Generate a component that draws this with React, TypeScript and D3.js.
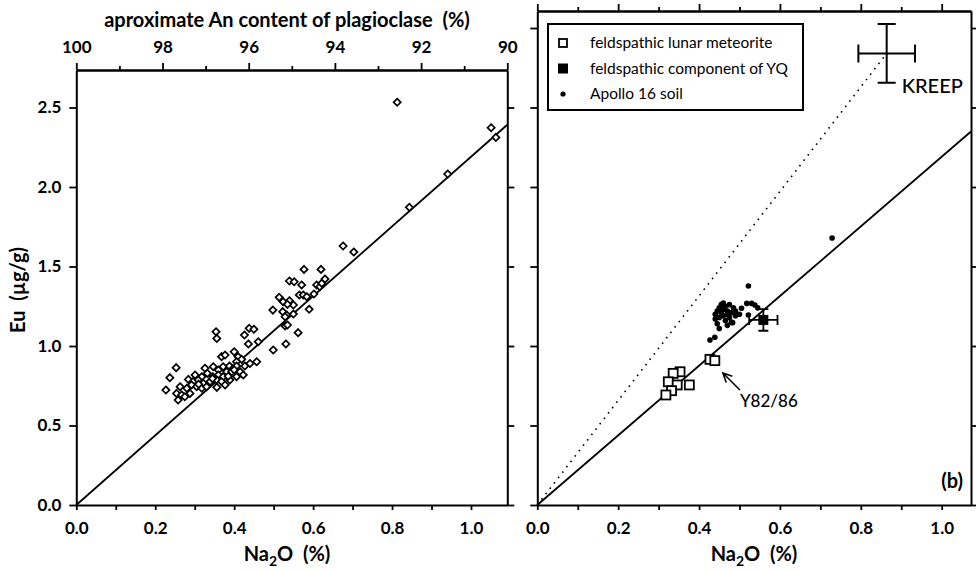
import React, { useEffect, useRef } from "react";
import * as d3 from "d3";

// left panel: lunar meteorites / samples (Na2O %, Eu ug/g)
const samplesNa2O = [
  0.676, 0.703, 0.577, 0.62, 0.63, 0.54, 0.552, 0.571, 0.609, 0.617, 0.622, 0.602, 0.565, 0.575, 0.584,
  0.514, 0.524, 0.54, 0.55, 0.535, 0.498, 0.59, 0.523, 0.533, 0.55, 0.529, 0.529, 0.535, 0.562, 0.354,
  0.356, 0.426, 0.438, 0.45, 0.436, 0.461, 0.499, 0.531, 0.4, 0.368, 0.377, 0.41, 0.419, 0.406, 0.457,
  0.427, 0.253, 0.237, 0.227, 0.326, 0.347, 0.36, 0.372, 0.388, 0.398, 0.406, 0.381, 0.394, 0.415,
  0.301, 0.318, 0.332, 0.346, 0.36, 0.372, 0.284, 0.296, 0.309, 0.322, 0.339, 0.356, 0.368, 0.389,
  0.406, 0.423, 0.263, 0.28, 0.292, 0.305, 0.318, 0.33, 0.356, 0.377, 0.254, 0.267, 0.258, 0.275,
  0.288, 0.813, 0.941, 0.844, 1.051, 1.063, 0.345, 0.385, 0.4, 0.31, 0.44,
];
const samplesEu = [
  1.629, 1.591, 1.482, 1.482, 1.421, 1.409, 1.404, 1.384, 1.384, 1.373, 1.394, 1.327, 1.321, 1.321, 1.31,
  1.306, 1.279, 1.285, 1.258, 1.262, 1.226, 1.231, 1.216, 1.195, 1.201, 1.184, 1.126, 1.132, 1.084, 1.09,
  1.048, 1.069, 1.111, 1.105, 1.013, 1.027, 0.975, 1.013, 0.964, 0.933, 0.943, 0.933, 0.916, 0.901, 0.901,
  0.874, 0.864, 0.801, 0.723, 0.86, 0.87, 0.849, 0.87, 0.874, 0.86, 0.874, 0.838, 0.838, 0.838,
  0.818, 0.807, 0.828, 0.807, 0.818, 0.807, 0.79, 0.776, 0.786, 0.765, 0.776, 0.786, 0.776, 0.786,
  0.807, 0.818, 0.744, 0.734, 0.755, 0.744, 0.734, 0.744, 0.74, 0.755, 0.702, 0.692, 0.66, 0.681,
  0.702, 2.533, 2.082, 1.872, 2.373, 2.312, 0.795, 0.81, 0.85, 0.76, 0.89,
];

// right panel
const meteoriteNa2O = [0.427, 0.439, 0.353, 0.336, 0.324, 0.346, 0.376, 0.332, 0.318];
const meteoriteEu = [0.916, 0.908, 0.838, 0.828, 0.775, 0.755, 0.755, 0.719, 0.692];

const yqNa2O = [0.559];
const yqEu = [1.164];
const yqErrNa2O = [0.035];
const yqErrEu = [0.068];

const soilNa2O = [
  0.44, 0.445, 0.45, 0.45, 0.455, 0.46, 0.46, 0.465, 0.465, 0.47, 0.47, 0.475, 0.475, 0.48, 0.48, 0.485,
  0.49, 0.49, 0.44, 0.445, 0.455, 0.46, 0.5, 0.505, 0.518, 0.53, 0.538, 0.522, 0.522, 0.427, 0.439, 0.45,
  0.729, 0.47, 0.483, 0.545,
];
const soilEu = [
  1.2, 1.22, 1.18, 1.24, 1.21, 1.19, 1.23, 1.16, 1.25, 1.2, 1.22, 1.18, 1.26, 1.21, 1.15, 1.24,
  1.19, 1.22, 1.17, 1.14, 1.26, 1.27, 1.2, 1.237, 1.268, 1.268, 1.258, 1.195, 1.377, 1.038, 1.055, 1.11,
  1.679, 1.13, 1.147, 1.24,
];

const kreepNa2O = [0.864];
const kreepEu = [2.84];
const kreepErrNa2O = [0.07];
const kreepErrEu = [0.185];

const trendSlope = 2.19; // Eu / Na2O, solid line through origin

const naTicks = [0, 0.1, 0.2, 0.3, 0.4, 0.5, 0.6, 0.7, 0.8, 0.9, 1.0];
const naLabels = [0, 0.2, 0.4, 0.6, 0.8, 1.0];
const euTicksLeft = [0, 0.5, 1.0, 1.5, 2.0, 2.5];
const euTicksRight = [0, 0.5, 1.0, 1.5, 2.0, 2.5, 3.0];
const anMajor = [100, 98, 96, 94, 92, 90];
const anMinor = [99, 97, 95, 93, 91];

const legendLabels = ["feldspathic lunar meteorite", "feldspathic component of YQ", "Apollo 16 soil"];

const FONT = "Lato, 'Open Sans', sans-serif";

const App = () => {
  const ref = useRef<SVGSVGElement>(null);

  useEffect(() => {
    const svg = d3.select(ref.current);
    svg.selectAll("*").remove();

    const x1 = d3.scaleLinear().domain([0, 1.092]).range([76.3, 507.3]);
    const y1 = d3.scaleLinear().domain([0, 2.736]).range([505, 70]);
    const an = d3.scaleLinear().domain([100, 90]).range([76.3, 507.3]);
    const x2 = d3.scaleLinear().domain([0, 1.0725]).range([537.3, 971]);
    const y2 = d3.scaleLinear().domain([0, 3.107]).range([505, 11]);

    const styleAxis = (g, labelSize = 17) => {
      g.selectAll(".domain").attr("stroke", "#000").attr("stroke-width", 2);
      g.selectAll(".tick line").attr("stroke", "#000").attr("stroke-width", 1.8);
      g.selectAll(".tick text")
        .attr("fill", "#000")
        .attr("font-family", FONT)
        .attr("font-weight", 700)
        .attr("font-size", labelSize);
      g.attr("font-family", null).attr("font-size", null);
    };

    const fmt = (labels) => (d) => (labels.some((l) => Math.abs(l - d) < 1e-6) ? d3.format(".1f")(d) : "");

    // ---- left panel axes ----
    const gl = svg.append("g");
    gl.append("g")
      .attr("transform", `translate(0,${y1(0)})`)
      .call(d3.axisBottom(x1).tickValues(naTicks).tickSize(5).tickSizeOuter(0).tickPadding(12).tickFormat(fmt(naLabels)))
      .call(styleAxis);
    gl.append("g")
      .attr("transform", `translate(${x1(0)},0)`)
      .call(d3.axisLeft(y1).tickValues(euTicksLeft).tickSize(7).tickSizeOuter(0).tickPadding(8).tickFormat(d3.format(".1f")))
      .call(styleAxis);
    gl.append("g")
      .attr("transform", `translate(${x1.range()[1]},0)`)
      .call(d3.axisRight(y1).tickValues(euTicksLeft).tickSize(7).tickSizeOuter(0).tickFormat(() => ""))
      .call(styleAxis);
    gl.append("g")
      .attr("transform", `translate(0,${y1.range()[1]})`)
      .call(d3.axisTop(an).tickValues(anMajor).tickSize(7).tickSizeOuter(0).tickPadding(10).tickFormat(d3.format("d")))
      .call(styleAxis);
    gl.append("g")
      .attr("transform", `translate(0,${y1.range()[1]})`)
      .call(d3.axisTop(an).tickValues(anMinor).tickSize(4).tickSizeOuter(0).tickFormat(() => ""))
      .call(styleAxis);

    // ---- right panel axes ----
    const gr = svg.append("g");
    gr.append("g")
      .attr("transform", `translate(0,${y2(0)})`)
      .call(d3.axisBottom(x2).tickValues(naTicks).tickSize(5).tickSizeOuter(0).tickPadding(12).tickFormat(fmt(naLabels)))
      .call(styleAxis);
    gr.append("g")
      .attr("transform", `translate(${x2(0)},0)`)
      .call(d3.axisLeft(y2).tickValues(euTicksRight).tickSize(7).tickSizeOuter(0).tickFormat(() => ""))
      .call(styleAxis);
    gr.append("g")
      .attr("transform", `translate(${x2.range()[1]},0)`)
      .call(d3.axisRight(y2).tickValues(euTicksRight).tickSize(7).tickSizeOuter(0).tickFormat(() => ""))
      .call(styleAxis);
    gr.append("g")
      .attr("transform", `translate(0,${y2.range()[1]})`)
      .call(d3.axisTop(x2).tickValues(naLabels).tickSize(7).tickSizeOuter(0).tickFormat(() => ""))
      .call(styleAxis);
    gr.append("g")
      .attr("transform", `translate(0,${y2.range()[1]})`)
      .call(d3.axisTop(x2).tickValues(naTicks.filter((t) => !naLabels.includes(t))).tickSize(4).tickSizeOuter(0).tickFormat(() => ""))
      .call(styleAxis);

    // ---- axis titles ----
    const title = (g, x, y, rot = 0) =>
      g.append("text")
        .attr("transform", `translate(${x},${y}) rotate(${rot})`)
        .attr("text-anchor", "middle")
        .attr("font-family", FONT)
        .attr("font-weight", 700)
        .attr("font-size", 20);

    title(svg, 287, 27).attr("xml:space", "preserve").text("aproximate An content of plagioclase  (%)");
    title(svg, 25, 290, -90).attr("xml:space", "preserve").text("Eu  (µg/g)");
    [
      [x1, 287],
      [x2, 754],
    ].forEach(([, cx]) => {
      const t = title(svg, cx, 561).attr("xml:space", "preserve");
      t.append("tspan").text("Na");
      t.append("tspan").attr("font-size", 14).attr("dy", 5).text("2");
      t.append("tspan").attr("dy", -5).text("O  (%)");
    });

    // ---- trend lines ----
    const xEnd1 = x1.domain()[1];
    gl.append("line")
      .attr("x1", x1(0)).attr("y1", y1(0))
      .attr("x2", x1(xEnd1)).attr("y2", y1(trendSlope * xEnd1))
      .attr("stroke", "#000").attr("stroke-width", 1.8);
    const xEnd2 = x2.domain()[1];
    gr.append("line")
      .attr("x1", x2(0)).attr("y1", y2(0))
      .attr("x2", x2(xEnd2)).attr("y2", y2(trendSlope * xEnd2))
      .attr("stroke", "#000").attr("stroke-width", 1.8);
    gr.append("line")
      .attr("x1", x2(0)).attr("y1", y2(0))
      .attr("x2", x2(kreepNa2O[0])).attr("y2", y2(kreepEu[0]))
      .attr("stroke", "#000").attr("stroke-width", 1.6)
      .attr("stroke-dasharray", "1.6 5.2");

    // ---- left panel diamonds ----
    const diamond = "M0,-3.6L3.6,0L0,3.6L-3.6,0Z";
    gl.append("g")
      .selectAll("path")
      .data(samplesNa2O.map((d, i) => [d, samplesEu[i]]))
      .enter()
      .append("path")
      .attr("d", diamond)
      .attr("transform", (d) => `translate(${x1(d[0])},${y1(d[1])})`)
      .attr("fill", "#fff")
      .attr("stroke", "#000")
      .attr("stroke-width", 1.7);

    // ---- right panel marks ----
    gr.append("g")
      .selectAll("circle")
      .data(soilNa2O.map((d, i) => [d, soilEu[i]]))
      .enter()
      .append("circle")
      .attr("cx", (d) => x2(d[0]))
      .attr("cy", (d) => y2(d[1]))
      .attr("r", 2.8)
      .attr("fill", "#000");

    gr.append("g")
      .selectAll("rect")
      .data(meteoriteNa2O.map((d, i) => [d, meteoriteEu[i]]))
      .enter()
      .append("rect")
      .attr("x", (d) => x2(d[0]) - 4.5)
      .attr("y", (d) => y2(d[1]) - 4.5)
      .attr("width", 9)
      .attr("height", 9)
      .attr("fill", "#fff")
      .attr("stroke", "#000")
      .attr("stroke-width", 1.8);

    const errorCross = (g, cx, cy, ex, ey, cap, sw) => {
      const px = x2(cx), py = y2(cy);
      const l = x2(cx - ex), r = x2(cx + ex), t = y2(cy + ey), b = y2(cy - ey);
      const p = `M${l},${py}H${r}M${px},${t}V${b}` +
        `M${l},${py - cap}V${py + cap}M${r},${py - cap}V${py + cap}` +
        `M${px - cap},${t}H${px + cap}M${px - cap},${b}H${px + cap}`;
      g.append("path").attr("d", p).attr("fill", "none").attr("stroke", "#000").attr("stroke-width", sw);
    };

    yqNa2O.forEach((d, i) => {
      errorCross(gr, d, yqEu[i], yqErrNa2O[i], yqErrEu[i], 5, 1.8);
      gr.append("rect")
        .attr("x", x2(d) - 5).attr("y", y2(yqEu[i]) - 5)
        .attr("width", 10).attr("height", 10).attr("fill", "#000");
    });

    kreepNa2O.forEach((d, i) => {
      errorCross(gr, d, kreepEu[i], kreepErrNa2O[i], kreepErrEu[i], 9, 2);
      gr.append("text")
        .attr("x", x2(d + 0.037)).attr("y", y2(kreepEu[i] - 0.25))
        .attr("font-family", FONT).attr("font-size", 20).attr("font-weight", 500)
        .text("KREEP");
    });

    // Y82/86 annotation
    const tip = [x2(0.459), y2(0.83)];
    const tail = [x2(0.501), y2(0.723)];
    const ang = Math.atan2(tail[1] - tip[1], tail[0] - tip[0]);
    const wing = (a) => [tip[0] + 10 * Math.cos(ang + a), tip[1] + 10 * Math.sin(ang + a)];
    const w1 = wing(0.45), w2 = wing(-0.45);
    gr.append("path")
      .attr("d", `M${tail[0]},${tail[1]}L${tip[0]},${tip[1]}M${w1[0]},${w1[1]}L${tip[0]},${tip[1]}L${w2[0]},${w2[1]}`)
      .attr("fill", "none").attr("stroke", "#000").attr("stroke-width", 1.6);
    gr.append("text")
      .attr("x", x2(0.501)).attr("y", y2(0.616))
      .attr("font-family", FONT).attr("font-size", 17).attr("font-weight", 500)
      .text("Y82/86");

    gr.append("text")
      .attr("x", 963).attr("y", 488)
      .attr("text-anchor", "end")
      .attr("font-family", FONT).attr("font-weight", 700).attr("font-size", 20)
      .text("(b)");

    // ---- legend ----
    const lg = svg.append("g");
    lg.append("rect")
      .attr("x", 548).attr("y", 24).attr("width", 255).attr("height", 86)
      .attr("fill", "#fff").attr("stroke", "#000").attr("stroke-width", 2);
    const rows = lg.selectAll("g.row").data(legendLabels).enter().append("g")
      .attr("transform", (d, i) => `translate(0,${43 + i * 25.5})`);
    rows.append("text")
      .attr("x", 590).attr("y", 5)
      .attr("font-family", FONT).attr("font-size", 15.5)
      .text((d) => d);
    rows.filter((d, i) => i === 0).append("rect")
      .attr("x", 559).attr("y", -4).attr("width", 8).attr("height", 8)
      .attr("fill", "#fff").attr("stroke", "#000").attr("stroke-width", 1.8);
    rows.filter((d, i) => i === 1).append("rect")
      .attr("x", 558).attr("y", -5).attr("width", 10).attr("height", 10).attr("fill", "#000");
    rows.filter((d, i) => i === 2).append("circle")
      .attr("cx", 563).attr("cy", 0).attr("r", 2.6).attr("fill", "#000");
  }, []);

  return (
    <svg
      ref={ref}
      width={976}
      height={573}
      style={{ position: "absolute", left: 0, top: 0, background: "#fff" }}
    />
  );
};

export default App;
